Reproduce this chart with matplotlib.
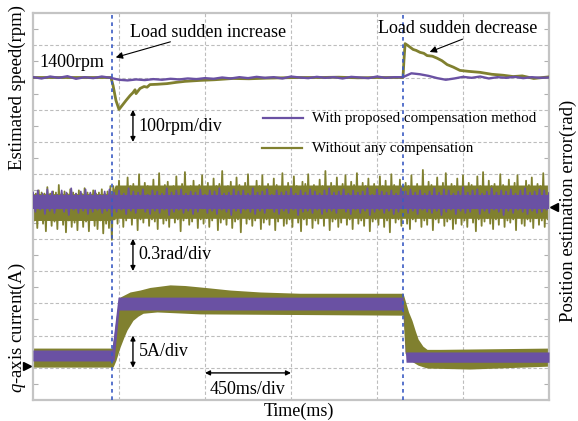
import numpy as np
import matplotlib
matplotlib.use("Agg")
import matplotlib.pyplot as plt
from matplotlib.transforms import blended_transform_factory

plt.rcParams['font.family'] = ['Liberation Serif', 'DejaVu Serif']
plt.rcParams['mathtext.fontset'] = 'custom'
plt.rcParams['mathtext.rm'] = 'Liberation Serif'
plt.rcParams['mathtext.it'] = 'Liberation Serif:italic'

PURPLE = '#6a51a3'
OLIVE = '#80802f'

# ---------------- recorded traces ----------------
# Estimated speed (rpm)
speed_comp = [1401, 1397, 1403, 1399, 1404, 1396, 1401, 1398, 1403, 1399,
              1393, 1391, 1394, 1392, 1395, 1393, 1396, 1394, 1397, 1395, 1398,
              1396, 1400, 1397, 1401, 1398, 1402, 1399, 1401, 1397, 1403, 1400,
              1398, 1402, 1399, 1401, 1397, 1402, 1400, 1398, 1403, 1399, 1401,
              1401, 1413, 1410, 1405, 1398, 1393, 1397, 1402, 1399, 1403, 1397,
              1401, 1399, 1402, 1398, 1401, 1399, 1400]
speed_raw_t = [0, 100, 200, 300, 408, 419, 434, 450, 466, 487,
               508, 523, 534, 539, 560, 581, 597, 612, 650, 701,
               750, 795, 874, 950, 1047, 1130, 1225, 1300, 1397, 1500,
               1600, 1700, 1800, 1936, 1941, 1947, 1962, 1989, 2005, 2025,
               2045, 2062, 2090, 2114, 2140, 2167, 2200, 2234, 2280, 2339,
               2400, 2460, 2512, 2560, 2620, 2700]
speed_raw = [1400, 1400, 1400, 1400, 1400, 1375, 1329, 1301, 1313, 1329,
             1344, 1353, 1362, 1350, 1366, 1372, 1370, 1378, 1379, 1381,
             1385, 1388, 1391, 1393, 1397, 1396, 1398, 1399, 1400, 1400,
             1401, 1399, 1400, 1400, 1453, 1505, 1499, 1487, 1484, 1478,
             1475, 1468, 1466, 1460, 1452, 1440, 1432, 1422, 1419, 1416,
             1410, 1407, 1403, 1405, 1397, 1402]

# Position estimation error (rad), with compensation: per-sample peaks
pe_comp_hi = [0.13, 0.15, 0.12, 0.16, 0.14, 0.11, 0.15, 0.13, 0.17, 0.12,
              0.14, 0.16, 0.13, 0.15, 0.11, 0.14, 0.16, 0.13, 0.15, 0.12,
              0.17, 0.14, 0.13, 0.16, 0.11, 0.15, 0.14, 0.12, 0.17, 0.13,
              0.15, 0.16, 0.12, 0.14, 0.13, 0.16, 0.11, 0.15, 0.14, 0.17,
              0.12, 0.13, 0.16, 0.14, 0.15, 0.12, 0.17, 0.13, 0.14, 0.16,
              0.11, 0.15, 0.13, 0.14, 0.17, 0.12, 0.15, 0.13, 0.16, 0.14,
              0.12, 0.15, 0.17, 0.13, 0.14, 0.16, 0.12, 0.15, 0.13, 0.14,
              0.17, 0.11, 0.16, 0.14, 0.13, 0.15, 0.12, 0.17, 0.14, 0.16,
              0.13, 0.15, 0.12, 0.14, 0.17, 0.13, 0.16, 0.15, 0.12, 0.14,
              0.18, 0.13, 0.15, 0.16, 0.12, 0.14, 0.17, 0.13, 0.15, 0.14,
              0.16, 0.12, 0.15, 0.17, 0.13, 0.14, 0.16, 0.15, 0.13]
pe_comp_lo = [-0.05, -0.03, -0.07, -0.04, -0.06, -0.02, -0.05, -0.08, -0.03, -0.06,
              -0.04, -0.07, -0.05, -0.03, -0.06, -0.04, -0.08, -0.05, -0.03, -0.07,
              -0.04, -0.06, -0.02, -0.05, -0.07, -0.04, -0.06, -0.03, -0.08, -0.05,
              -0.03, -0.06, -0.04, -0.07, -0.05, -0.02, -0.06, -0.04, -0.07, -0.03,
              -0.05, -0.08, -0.04, -0.06, -0.03, -0.05, -0.07, -0.04, -0.06, -0.02,
              -0.05, -0.07, -0.04, -0.06, -0.03, -0.08, -0.05, -0.04, -0.06, -0.03,
              -0.07, -0.05, -0.04, -0.06, -0.02, -0.05, -0.07, -0.03, -0.06, -0.04,
              -0.08, -0.05, -0.03, -0.06, -0.04, -0.07, -0.05, -0.02, -0.06, -0.04,
              -0.07, -0.03, -0.05, -0.06, -0.04, -0.08, -0.05, -0.03, -0.07, -0.04,
              -0.06, -0.05, -0.02, -0.07, -0.04, -0.06, -0.03, -0.05, -0.08, -0.04,
              -0.06, -0.03, -0.05, -0.07, -0.04, -0.06, -0.05, -0.03, -0.06]
pe_comp_core_hi, pe_comp_core_lo = 0.11, -0.02

# Position estimation error (rad), without compensation: per-sample peaks
pe_raw_hi = [0.14, 0.12, 0.15, 0.13, 0.12, 0.18, 0.12, 0.14, 0.13, 0.20,
             0.12, 0.14, 0.12, 0.16, 0.13, 0.12, 0.15, 0.12, 0.17, 0.13,
             0.12, 0.15, 0.12, 0.13, 0.16, 0.12, 0.14, 0.19,
             0.19, 0.17, 0.24, 0.18, 0.16, 0.27, 0.19, 0.21, 0.17, 0.30,
             0.18, 0.22, 0.19, 0.16, 0.25, 0.18, 0.31, 0.17, 0.20, 0.23,
             0.16, 0.19, 0.28, 0.18, 0.21, 0.32, 0.17, 0.19, 0.24, 0.16,
             0.20, 0.29, 0.18, 0.22, 0.17, 0.26, 0.19, 0.21, 0.33, 0.16,
             0.19, 0.23, 0.17, 0.27, 0.20, 0.16, 0.22, 0.30, 0.18, 0.17,
             0.24, 0.19, 0.29, 0.16, 0.21, 0.18, 0.26, 0.20, 0.17, 0.31,
             0.18, 0.22, 0.17, 0.28, 0.19, 0.16, 0.23, 0.21, 0.30, 0.18,
             0.20, 0.17, 0.25, 0.19, 0.33, 0.17, 0.22, 0.19, 0.27, 0.16,
             0.21, 0.29, 0.18, 0.23, 0.20, 0.31, 0.17, 0.22, 0.19, 0.26,
             0.17, 0.21, 0.16, 0.28, 0.19, 0.24, 0.16, 0.30, 0.20, 0.18,
             0.25, 0.17, 0.22, 0.19, 0.29, 0.16, 0.21, 0.18, 0.34, 0.17,
             0.23, 0.20, 0.16, 0.27, 0.18, 0.22, 0.31, 0.17, 0.21, 0.19,
             0.26, 0.16, 0.29, 0.18, 0.22, 0.20, 0.16, 0.28, 0.19, 0.32,
             0.17, 0.24, 0.19, 0.21, 0.16, 0.30, 0.20, 0.18, 0.25, 0.17,
             0.22, 0.29, 0.18, 0.16, 0.24, 0.20, 0.27, 0.17, 0.21, 0.19,
             0.31, 0.17, 0.23]
pe_raw_lo = [-0.13, -0.20, -0.10, -0.16, -0.23, -0.12, -0.18, -0.14, -0.21, -0.11,
             -0.17, -0.24, -0.13, -0.19, -0.15, -0.22, -0.12, -0.19, -0.14, -0.23,
             -0.11, -0.18, -0.21, -0.13, -0.25, -0.16, -0.20, -0.31,
             -0.12, -0.16, -0.10, -0.19, -0.13, -0.10, -0.17, -0.11, -0.22, -0.12,
             -0.15, -0.10, -0.18, -0.12, -0.14, -0.21, -0.11, -0.16, -0.13, -0.19,
             -0.10, -0.15, -0.12, -0.23, -0.13, -0.11, -0.17, -0.14, -0.10, -0.20,
             -0.12, -0.16, -0.11, -0.19, -0.13, -0.10, -0.22, -0.15, -0.12, -0.17,
             -0.11, -0.20, -0.14, -0.12, -0.24, -0.10, -0.16, -0.12, -0.18, -0.13,
             -0.10, -0.21, -0.15, -0.12, -0.17, -0.10, -0.22, -0.14, -0.11, -0.18,
             -0.16, -0.12, -0.19, -0.10, -0.15, -0.23, -0.12, -0.17, -0.11, -0.20,
             -0.13, -0.16, -0.11, -0.18, -0.10, -0.22, -0.14, -0.12, -0.19, -0.15,
             -0.10, -0.17, -0.12, -0.21, -0.10, -0.16, -0.13, -0.18, -0.11, -0.23,
             -0.14, -0.12, -0.17, -0.10, -0.19, -0.13, -0.24, -0.11, -0.15, -0.12,
             -0.18, -0.10, -0.16, -0.21, -0.12, -0.14, -0.10, -0.19, -0.13, -0.17,
             -0.11, -0.22, -0.12, -0.15, -0.10, -0.18, -0.14, -0.12, -0.21, -0.16,
             -0.10, -0.17, -0.13, -0.19, -0.10, -0.15, -0.23, -0.12, -0.18, -0.14,
             -0.11, -0.16, -0.21, -0.12, -0.17, -0.10, -0.19, -0.13, -0.15, -0.12,
             -0.22, -0.10, -0.16, -0.18, -0.12, -0.14, -0.20, -0.11, -0.17, -0.13,
             -0.19, -0.12, -0.15]
pe_raw_core_t = [0, 413, 430, 2700]
pe_raw_core_hi = [0.12, 0.12, 0.20, 0.20]
pe_raw_core_lo = [-0.13, -0.13, -0.11, -0.11]

# q-axis current (A): ripple band edges at breakpoints
iq_comp_hi_t = [0, 413, 445, 1936, 1947, 2700]
iq_comp_hi = [2.5, 2.5, 10.7, 10.7, 2.2, 2.2]
iq_comp_lo_t = [0, 424, 450, 1936, 1952, 2700]
iq_comp_lo = [0.8, 0.8, 8.7, 8.7, 0.6, 0.6]
iq_raw_hi_t = [0, 413, 424, 440, 455, 508, 560, 612, 665, 717,
               795, 900, 1031, 1188, 1397, 1936, 1947, 1965, 1983, 2000,
               2015, 2040, 2062, 2130, 2700]
iq_raw_hi = [2.8, 2.8, 4.8, 8.7, 10.7, 11.5, 11.8, 12.2, 12.4, 12.6,
             12.5, 12.2, 11.8, 11.5, 11.3, 11.3, 10.2, 8.4, 7.1, 5.5,
             4.2, 3.1, 2.6, 2.6, 2.8]
iq_raw_lo_t = [0, 419, 434, 455, 476, 492, 523, 550, 576, 649,
               874, 1936, 1947, 1973, 2015, 2062, 2287, 2700]
iq_raw_lo = [-0.15, -0.15, 0.9, 2.9, 4.5, 5.6, 7.1, 7.75, 8.2, 8.4,
             8.1, 7.9, 2.0, 0.9, 0.15, -0.3, -0.45, 0.0]

load_steps = [413, 1936]          # ms
T_SPAN = 2700                      # ms, 6 x 450 ms/div

# ---------------- scope channel settings (div units) ----------------
SPEED_REF, SPEED_DIV, SPEED_POS = 1400, 100, 10.0
PE_DIV, PE_POS = 0.3, 6.0
IQ_DIV, IQ_POS = 5.0, 1.05


def ch_speed(v):
    return SPEED_POS + (np.asarray(v, float) - SPEED_REF) / SPEED_DIV


def ch_pe(v):
    return PE_POS + np.asarray(v, float) / PE_DIV


def ch_iq(v):
    return IQ_POS + np.asarray(v, float) / IQ_DIV


def zigzag(t, hi, lo):
    """Alternate between the upper and lower peak of each sample."""
    t = np.asarray(t, float)
    half = (t[1] - t[0]) / 2
    return (np.column_stack([t, t + half]).ravel(),
            np.column_stack([hi, lo]).ravel())


W, H = 578, 421
fig = plt.figure(figsize=(W / 100, H / 100), dpi=100)
ax = fig.add_axes([33 / W, 1 - 400 / H, 516 / W, 387 / H])
ax.set_xlim(0, T_SPAN)
ax.set_ylim(0, 12)

# grid
for gx in np.arange(450, T_SPAN, 450):
    ax.axvline(gx, color='#bdbdbd', lw=0.8, dashes=(3, 2), zorder=0)
for gy in range(1, 12):
    ax.axhline(gy, color='#bdbdbd', lw=0.8, dashes=(3, 2), zorder=0)

ax.set_xticks([])
ax.set_yticks(np.arange(0.5, 12, 1.0))
ax.tick_params(axis='y', which='both', direction='in', length=3.5, width=0.8,
               color='#b0b0b0', labelleft=False, left=True, right=True)
for s in ax.spines.values():
    s.set_color('#c4c4c4')
    s.set_linewidth(1.6)

tt = np.linspace(0, T_SPAN, 2701)

# position estimation error, without compensation
ax.fill_between(tt, ch_pe(np.interp(tt, pe_raw_core_t, pe_raw_core_lo)),
                ch_pe(np.interp(tt, pe_raw_core_t, pe_raw_core_hi)),
                color=OLIVE, lw=0, zorder=2)
zt, zv = zigzag(np.linspace(0, T_SPAN, len(pe_raw_hi)), pe_raw_hi, pe_raw_lo)
ax.plot(zt, ch_pe(zv), color=OLIVE, lw=1.3, zorder=2)

# position estimation error, with compensation
ax.fill_between([0, T_SPAN], ch_pe(pe_comp_core_lo), ch_pe(pe_comp_core_hi),
                color=PURPLE, lw=0, zorder=3)
zt, zv = zigzag(np.linspace(0, T_SPAN, len(pe_comp_hi)), pe_comp_hi, pe_comp_lo)
ax.plot(zt, ch_pe(zv), color=PURPLE, lw=1.2, zorder=3)

# q-axis current traces
ax.fill_between(tt, ch_iq(np.interp(tt, iq_raw_lo_t, iq_raw_lo)),
                ch_iq(np.interp(tt, iq_raw_hi_t, iq_raw_hi)),
                color=OLIVE, lw=0, zorder=2)
ax.fill_between(tt, ch_iq(np.interp(tt, iq_comp_lo_t, iq_comp_lo)),
                ch_iq(np.interp(tt, iq_comp_hi_t, iq_comp_hi)),
                color=PURPLE, lw=0, zorder=3)

# speed traces
ax.plot(speed_raw_t, ch_speed(speed_raw), color=OLIVE, lw=2.0, zorder=4)
ax.plot(np.linspace(0, T_SPAN, len(speed_comp)), ch_speed(speed_comp),
        color=PURPLE, lw=1.7, zorder=5)

# load-step markers
for ts in load_steps:
    ax.axvline(ts, color='#3b5bc4', lw=1.2, dashes=(2.2, 2.2), zorder=6)

# annotations
FS = 13
ax.text(508, 11.41, 'Load sudden increase', fontsize=FS, ha='left', va='center', zorder=7)
ax.annotate('', xy=(419, 10.6), xytext=(733, 11.13),
            arrowprops=dict(arrowstyle='-|>', color='k', lw=0.8, mutation_scale=10))
ax.text(31, 10.48, '1400rpm', fontsize=FS, ha='left', va='center')
ax.text(1805, 11.53, 'Load sudden decrease', fontsize=FS, ha='left', va='center', zorder=7)
ax.annotate('', xy=(2062, 10.76), xytext=(2261, 11.22),
            arrowprops=dict(arrowstyle='-|>', color='k', lw=0.8, mutation_scale=10))

arrow_kw = dict(arrowstyle='<|-|>', color='k', lw=1.0, mutation_scale=7,
                shrinkA=0, shrinkB=0)
ax.annotate('', xy=(523, 8), xytext=(523, 9), arrowprops=arrow_kw)
ax.text(549, 8.47, '100rpm/div', fontsize=FS, ha='left', va='center')
ax.annotate('', xy=(523, 4), xytext=(523, 5), arrowprops=arrow_kw)
ax.text(549, 4.5, '0.3rad/div', fontsize=FS, ha='left', va='center')
ax.annotate('', xy=(523, 1), xytext=(523, 2), arrowprops=arrow_kw)
ax.text(555, 1.49, '5A/div', fontsize=FS, ha='left', va='center')
ax.annotate('', xy=(900, 0.84), xytext=(1350, 0.84), arrowprops=arrow_kw)
ax.text(1125, 0.34, '450ms/div', fontsize=FS, ha='center', va='center')

# legend
LFS = 10.8
ax.plot([1204, 1413], [8.74, 8.74], color=PURPLE, lw=1.6, zorder=7)
ax.text(1460, 8.74, 'With proposed compensation method', fontsize=LFS,
        ha='left', va='center', zorder=7)
ax.plot([1198, 1408], [7.81, 7.81], color=OLIVE, lw=1.6, zorder=7)
ax.text(1460, 7.81, 'Without any compensation', fontsize=LFS,
        ha='left', va='center', zorder=7)

# channel ground markers
tr = blended_transform_factory(ax.transAxes, ax.transData)
ax.plot([-0.012], [ch_iq(0)], marker='>', color='k', ms=6, transform=tr, clip_on=False)
ax.plot([1.009], [ch_pe(0)], marker='<', color='k', ms=6, transform=tr, clip_on=False)

# axis titles
fig.text(17 / W, 1 - 88 / H, 'Estimated speed(rpm)', fontsize=13.5,
         rotation=90, ha='center', va='center')
fig.text(17 / W, 1 - 328 / H, '$q$-axis current(A)', fontsize=13.5,
         rotation=90, ha='center', va='center')
fig.text(568 / W, 1 - 211 / H, 'Position estimation error(rad)', fontsize=13.5,
         rotation=90, ha='center', va='center')
fig.text(299 / W, 1 - 411 / H, 'Time(ms)', fontsize=13, ha='center', va='center')

fig.savefig('out.png', dpi=100)
